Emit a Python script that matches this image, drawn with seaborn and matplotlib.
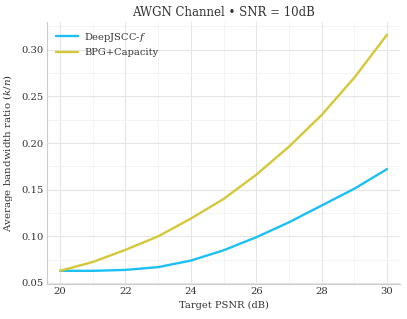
import numpy as np
import pandas as pd
import matplotlib
matplotlib.use("Agg")
import matplotlib.pyplot as plt
import seaborn as sns
from matplotlib.ticker import AutoMinorLocator

psnr = [20, 21, 22, 23, 24, 25, 26, 27, 28, 29, 30]
deepjscc = [0.063, 0.063, 0.064, 0.067, 0.074, 0.085, 0.099, 0.115, 0.133, 0.151, 0.172]
bpg = [0.063, 0.0725, 0.0855, 0.100, 0.119, 0.140, 0.166, 0.196, 0.230, 0.270, 0.316]

df = pd.concat([
    pd.DataFrame({"psnr": psnr, "ratio": deepjscc, "method": "DeepJSCC-$f$"}),
    pd.DataFrame({"psnr": psnr, "ratio": bpg, "method": "BPG+Capacity"}),
])

sns.set_style("white")
plt.rcParams["font.family"] = ["DejaVu Serif"]
plt.rcParams["mathtext.fontset"] = "dejavuserif"
plt.rcParams["text.color"] = "#333333"
plt.rcParams["axes.labelcolor"] = "#333333"
plt.rcParams["xtick.color"] = "#333333"
plt.rcParams["ytick.color"] = "#333333"

fig, ax = plt.subplots(figsize=(4.07, 3.19), dpi=100)
sns.lineplot(data=df, x="psnr", y="ratio", hue="method",
             palette=["#1cc0f2", "#d4c83a"], linewidth=1.7, ax=ax)

ax.xaxis.set_minor_locator(AutoMinorLocator(2))
ax.yaxis.set_minor_locator(AutoMinorLocator(2))
ax.grid(which="major", color="#e6e6e6", linewidth=0.8)
ax.grid(which="minor", color="#f3f3f3", linewidth=0.6)
ax.set_axisbelow(True)
for s in ["top", "right"]:
    ax.spines[s].set_visible(False)
for s in ["left", "bottom"]:
    ax.spines[s].set_color("#cccccc")
ax.tick_params(which="both", length=0, labelsize=7.2, pad=2.5)
ax.set_xticks([20, 22, 24, 26, 28, 30])
ax.set_yticks([0.05, 0.10, 0.15, 0.20, 0.25, 0.30])
ax.set_yticklabels([f"{v:.2f}" for v in [0.05, 0.10, 0.15, 0.20, 0.25, 0.30]])
ax.set_xlim(19.6, 30.4)
ax.set_ylim(0.049, 0.330)
ax.set_xlabel("Target PSNR (dB)", fontsize=7.1, labelpad=3)
ax.set_ylabel("Average bandwidth ratio ($k/n$)", fontsize=7.4, labelpad=4.5)
ax.set_title("AWGN Channel \u2022 SNR = 10dB", fontsize=8.5, pad=4)
ax.legend(title=None, frameon=False, fontsize=7.1, loc="upper left",
          handlelength=2.2, handletextpad=0.7)

fig.subplots_adjust(left=0.1155, right=0.983, top=0.932, bottom=0.11)
fig.savefig("out.png", dpi=100)
